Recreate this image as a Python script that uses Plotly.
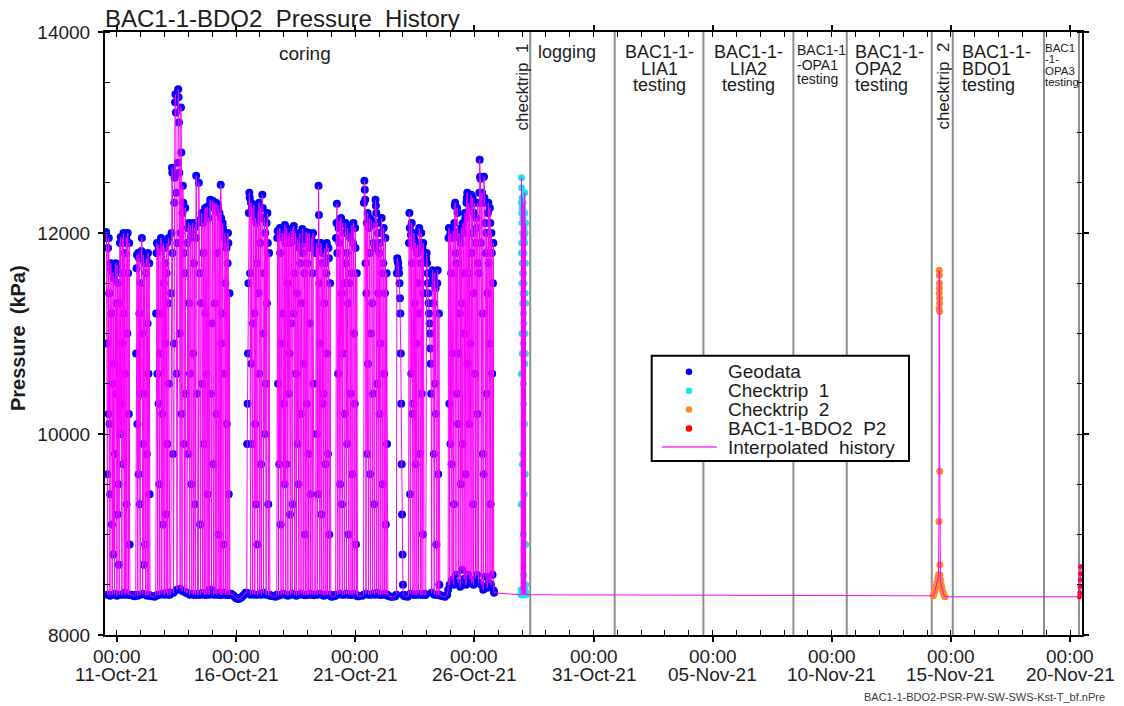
import numpy as np
import pandas as pd
import plotly.graph_objects as go

ORIGIN = pd.Timestamp("2021-10-11 00:00")

# ---------------------------------------------------------------------------
# Geodata recorded while coring: pressure (kPa), one list per stretch of record
# ---------------------------------------------------------------------------
blk01 = [11980, 12010, 11950, 10900, 9600, 8400, 11850, 10200, 11950, 11400, 10100, 8390,
         9400, 11700, 11640, 11200, 9100, 8400, 10500, 11600, 8800, 11550, 10700, 8410,
         9800, 11620, 11700, 10400, 11300, 8390, 11680, 9200, 11500, 9500, 8700, 8400,
         11300, 11900, 10000, 11960, 11600, 10300, 8400, 10900, 11950, 9700, 12000, 11200,
         8420, 11800, 10600, 8400, 11900, 11950, 9300, 8410, 11000, 12000, 11600, 8400,
         10200, 11900, 8900, 8400]
gap01 = [8400, 8390, 8385]
blk02 = [8400, 10800, 11650, 11780, 10100, 8390, 11800, 9600, 11750, 11200, 9300, 8400,
         11500, 10400, 11820, 11950, 11000, 8410, 9900, 11780, 8700, 11700, 10400, 8900,
         8400, 11600, 11750, 9800, 8390, 11100, 11800, 10600, 8400, 11700, 9400, 8390]
gap02 = [8385, 8380]
blk03 = [8390, 11200, 11800, 11900, 10600, 8400, 11880, 10300, 11850, 9500, 8400, 10800,
         11900, 11950, 11200, 8410, 10200, 11870, 9100, 11900, 11500, 8400, 11850, 10900,
         11700, 9200, 8420, 11600, 11900, 9900, 8400, 11300, 11950, 10500, 8420, 8400]
blk04 = [8420, 11400, 12000, 12650, 12600, 11800, 9800, 8420, 10900, 12300, 12550, 13300,
         13380, 13200, 12400, 10600, 8450, 11900, 12700, 13430, 13350, 13100, 12600, 11000,
         8460, 12000, 13250, 12800, 10200, 8440, 12200, 12470, 12300, 11800, 9900, 8430,
         11600, 12250, 10400, 8420]
blk05a = [8420, 11900, 12050, 9800, 12100, 11300, 8400, 10600, 12080, 11950, 9500, 8410,
          12000, 12100, 10800, 8400, 11700, 12050, 9300, 8400, 11950, 12570, 12100, 10400,
          8400, 8410]
blk05b = [8400, 12500, 12120, 11600, 9100, 8400, 11300, 12150, 12200, 10500, 8420, 12100,
          11800, 9900, 8400, 12180, 12250, 11200, 8400, 10600, 12200, 12260, 9400, 8410,
          12150, 8400]
blk05c = [8450, 12280, 12330, 12310, 10400, 8450, 11100, 12280, 12320, 9700, 8400, 12300,
          12250, 11300, 8410, 12220, 12300, 10200, 8400, 11800, 12280, 12240, 9000, 8420,
          12200, 8400]
blk05d = [8400, 12480, 12150, 10900, 8400, 11200, 12100, 12050, 8900, 8420, 10600, 11950,
          12000, 11500, 8400, 11900, 11850, 10100, 8400, 11700, 12000, 11900, 9400, 8400,
          11400, 8400]
gap03 = [8410, 8400, 8390, 8375, 8365, 8360, 8360, 8365, 8375, 8390, 8400, 8420]
blk06 = [8420, 9900, 10300, 10800, 11500, 12200, 12400, 12350, 11600, 8400, 12300, 10700,
         12250, 9900, 8410, 11100, 12200, 12280, 11200, 8400, 10100, 12150, 9300, 12100,
         11700, 8900, 8400, 12220, 11400, 12300, 10600, 8410, 11900, 12250, 9700, 8400,
         12150, 12380, 12250, 11000, 8420, 11600, 12150, 10000, 12000, 10500, 8400, 12100,
         11300, 12200, 11900, 9300, 8400, 11800, 8400, 8390]
gap04 = [8390, 8385, 8380]
blk07 = [8400, 11950, 12020, 10500, 8390, 11980, 9700, 12050, 11800, 9100, 8400, 10900,
         12000, 11960, 11200, 8410, 10300, 11990, 9500, 12080, 11900, 8400, 9700, 12050,
         11950, 11500, 8390, 11970, 10400, 12000, 10800, 9200, 8400, 11900, 12020, 11100,
         8410, 9300, 12050, 11200, 12070, 11600, 8400, 11980, 12000, 10600, 8390, 11400,
         11950, 9900, 11900, 9500, 8400, 11850, 12000, 11700, 10200, 8410, 11300, 11950,
         12040, 11800, 8400, 10700, 11900, 11600, 9000, 8395, 11950, 12010, 10300, 8400,
         11700, 11990, 9800, 8400, 12000, 11850, 11100, 8410, 9400, 11950, 11900, 8400,
         11600, 12000, 10500, 8400, 8395, 8400]
blk08 = [8400, 11800, 11900, 10000, 8400, 11850, 9400, 12470, 12180, 11500, 8410, 10900,
         11880, 11900, 9200, 8400, 11700, 10300, 11800, 10400, 8390, 11300, 11850, 11700,
         9700, 8400, 11600, 11900, 10800, 8400, 9800, 11850, 11750, 9000, 8400, 11500,
         8400, 8385]
gap05 = [8380, 8385]
blk09 = [8400, 11950, 12100, 12290, 11800, 8400, 10600, 12050, 12120, 11900, 8410, 9500,
         12080, 12150, 11400, 9300, 8400, 12100, 10800, 12000, 11500, 8400, 10200, 12090,
         12100, 11700, 8410, 11800, 9900, 12050, 11300, 9000, 8400, 11500, 12000, 11950,
         10400, 8400, 11600, 12080, 9600, 8400, 11900, 12100, 11000, 8410, 10300, 12050,
         11850, 8900, 8400, 11600, 8390, 8385]
gap06 = [8385, 8390]
blk10 = [8400, 12300, 12520, 12430, 12330, 11700, 8410, 11400, 12100, 9800, 12200, 10700,
         8400, 12050, 12150, 11800, 9600, 8400, 11000, 12130, 12080, 11300, 8410, 10400,
         11900, 12100, 9300, 8400, 11850, 12330, 12270, 12200, 8420, 10500, 12100, 12000,
         11400, 8400, 11800, 10200, 11900, 10900, 8400, 12000, 12150, 11600, 9500, 8400,
         11700, 12050, 10600, 8410, 11400, 11950, 9100, 8400, 11600, 9900, 8400, 8390]
gap07 = [8385, 8380, 8380, 8385]
blk11 = [8400, 11600, 11750, 11720, 11700, 11650, 11600, 11500, 11350, 11200, 10800, 10300,
         9700, 9200, 8800, 8500, 8400, 8390]
gap08 = [8385, 8380]
blk12 = [8400, 11900, 12200, 12050, 9400, 8410, 11980, 10600, 12100, 11700, 10200, 8400,
         10300, 12000, 11950, 11300, 8400, 11900, 9700, 11850, 10900, 8400, 11800, 11880,
         11500, 8410, 11200, 12050, 11900, 9800, 8400, 11700, 12000, 10400, 8400, 11850,
         9000, 11900, 11400, 8400, 8410, 8400]
blk13 = [8400, 11750, 11800, 11700, 11600, 11500, 11400, 11300, 11200, 11100, 11000, 10850,
         10700, 10400, 8420, 11500, 11630, 11550, 11300, 9800, 8400, 11600, 10500, 11450,
         10200, 8900, 8400, 11500, 11630, 9600, 8400, 11200, 8500, 8400]
gap09 = [8390, 8385, 8380, 8400]
blk14 = [8450, 11950, 12050, 10300, 8500, 11980, 9900, 12000, 11600, 9700, 8550, 10800,
         11950, 12020, 8500, 9300, 12100, 12270, 12300, 11800, 8600, 11700, 10400, 12250,
         12200, 10100, 8520, 10800, 12000, 11950, 11200, 8480, 11900, 9500, 12050, 11300,
         8650, 9900, 12100, 12000, 11600, 8560, 11000, 12200, 12150, 9600, 8500, 12300,
         12350, 12400, 10700, 8600, 11600, 12300, 10100, 12250, 8550, 10900, 12300, 12380,
         11800, 8520, 12000, 12350, 9300, 8500, 11400, 12200, 12300, 10600, 8560, 11900,
         12150, 12050, 8600, 10200, 12300, 11700, 8520, 11600, 12400, 12730, 12560, 12540,
         11900, 8500, 12300, 12400, 11200, 9800, 8450, 9600, 12560, 12350, 12300, 12100,
         8580, 11800, 12000, 10400, 8470, 11400, 12200, 12300, 11700, 8520, 10900, 12250,
         12100, 9300, 8500, 12000, 11800, 10600, 8600, 11500, 11900, 8440, 8420]

# first / last day (days after 11-Oct-21 00:00) of each stretch above
coring_days = [(-0.47, 0.55), (0.60, 0.74), (0.79, 1.39), (1.45, 1.58), (1.63, 2.22),
               (2.26, 2.90), (2.94, 3.40), (3.42, 3.86), (3.88, 4.32), (4.34, 4.74),
               (4.79, 5.40), (5.45, 6.42), (6.47, 6.66), (6.71, 8.30), (8.34, 8.98),
               (9.02, 9.14), (9.18, 10.10), (10.15, 10.30), (10.35, 11.37), (11.42, 11.68),
               (11.73, 12.04), (12.08, 12.20), (12.24, 12.92), (12.96, 13.55),
               (13.59, 13.86), (13.90, 15.83)]
coring_blocks = [blk01, gap01, blk02, gap02, blk03, blk04, blk05a, blk05b, blk05c, blk05d,
                 gap03, blk06, gap04, blk07, blk08, gap05, blk09, gap06, blk10, gap07,
                 blk11, gap08, blk12, blk13, gap09, blk14]

# Checktrip 1
ct1_days = (16.96, 17.16)
ct1_kpa = [8400, 8450, 9300, 10600, 11800, 12300, 12550, 12450, 12200, 11900, 11000, 8450,
           11500, 12100, 12350, 12250, 11700, 10800, 8420, 9700, 11600, 12250, 12000, 11300,
           9800, 8400, 11400, 12150, 12300, 11800, 10900, 9000, 8400, 10500, 11200, 11950,
           11600, 10300, 8600, 11100, 11800, 12050, 11500, 9400, 8420, 11300, 11700, 10100,
           8500, 12200, 12400, 11900, 10700, 8450, 11000, 12000, 11400, 9600, 8400, 10800,
           11700, 12100, 11300, 8900, 8500, 8420, 8400]

# Checktrip 2
ct2_day = [34.25, 34.29, 34.33, 34.37, 34.41, 34.45, 34.48, 34.497, 34.503, 34.506, 34.509,
           34.512, 34.515, 34.518, 34.521, 34.524, 34.527, 34.531, 34.536, 34.54, 34.56,
           34.59, 34.62, 34.66, 34.70, 34.75]
ct2_kpa = [8390, 8410, 8440, 8480, 8520, 8560, 8600, 9130, 11250, 11400, 11630, 11580,
           11500, 11450, 11350, 11300, 11220, 9630, 8700, 8600, 8550, 8500, 8470, 8430,
           8400, 8380]

# BAC1-1-BDO2 P2
p2_day = [40.39, 40.41, 40.42, 40.43, 40.44, 40.45]
p2_kpa = [8380, 8420, 8480, 8550, 8610, 8680]

# operation boundaries
phase_bounds = ["2021-10-28 08:15", "2021-10-31 21:20", "2021-11-04 14:40",
                "2021-11-08 09:20", "2021-11-10 15:05", "2021-11-14 04:40",
                "2021-11-15 01:50", "2021-11-18 21:43", "2021-11-20 08:57"]

tick_dates = ["2021-10-11", "2021-10-16", "2021-10-21", "2021-10-26", "2021-10-31",
              "2021-11-05", "2021-11-10", "2021-11-15", "2021-11-20"]
y_ticks = [8000, 10000, 12000, 14000]

X_RANGE = ["2021-10-10 12:00", "2021-11-20 12:00"]
Y_RANGE = [8000, 14000]

# ---------------------------------------------------------------------------
W, H = 1124, 706
L, R, T, B = 105, 42, 32, 71
PW, PH = W - L - R, H - T - B
FONT = "Liberation Sans, Arial, Helvetica, sans-serif"
INK = "#1c1c1c"


def to_time(days):
    return ORIGIN + pd.to_timedelta(np.asarray(days, dtype=float), unit="D")


def px_x(p):
    return (p - L) / PW


def px_y(p):
    return (T + PH - p) / PH


geo_day = np.concatenate([np.linspace(a, b, len(v)) for (a, b), v in zip(coring_days, coring_blocks)])
geo_kpa = np.concatenate([np.asarray(v, dtype=float) for v in coring_blocks])
ct1_day = np.linspace(ct1_days[0], ct1_days[1], len(ct1_kpa))

hist_day = np.concatenate([geo_day, ct1_day, ct2_day, p2_day])
hist_kpa = np.concatenate([geo_kpa, ct1_kpa, ct2_kpa, p2_kpa])
order = np.argsort(hist_day, kind="stable")

fig = go.Figure()
fig.add_trace(go.Scatter(x=to_time(geo_day), y=geo_kpa, mode="markers", name="Geodata",
                         marker=dict(color="#0000ff", size=8, line=dict(width=0))))
fig.add_trace(go.Scatter(x=to_time(ct1_day), y=ct1_kpa, mode="markers", name="Checktrip 1",
                         marker=dict(color="#18e4ee", size=7, line=dict(width=0))))
fig.add_trace(go.Scatter(x=to_time(ct2_day), y=ct2_kpa, mode="markers", name="Checktrip 2",
                         marker=dict(color="#ff8a24", size=7, line=dict(width=0))))
fig.add_trace(go.Scatter(x=to_time(p2_day), y=p2_kpa, mode="markers", name="BAC1-1-BDO2 P2",
                         marker=dict(color="#ff0000", size=5, line=dict(width=0))))
fig.add_trace(go.Scatter(x=to_time(hist_day[order]), y=hist_kpa[order], mode="lines",
                         name="Interpolated history", line=dict(color="#ff00ff", width=1.0)))

shapes = []
for b in phase_bounds:
    shapes.append(dict(type="line", xref="x", yref="paper", x0=b, x1=b, y0=0, y1=1,
                       line=dict(color="#8e8e8e", width=2), layer="below"))

annotations = []


def note(text, x, y, size, xref="x", xanchor="center", angle=0, xshift=0, color=INK):
    annotations.append(dict(text=text, x=x, y=y, xref=xref, yref="paper", xanchor=xanchor,
                            yanchor="middle", textangle=angle, xshift=xshift, showarrow=False,
                            borderpad=0, font=dict(family=FONT, size=size, color=color)))


# operation labels
note("coring", "2021-10-18 21:45", px_y(53.5), 19)
note("checktrip\u00a0 1", "2021-10-28 00:00", px_y(87.5), 17, angle=-90)
note("logging", phase_bounds[0], px_y(51.5), 18, xanchor="left", xshift=7)
rows18 = [51.5, 68.5, 85]
for i, line in enumerate(["BAC1-1-", "LIA1", "testing"]):
    note(line, "2021-11-02 18:00", px_y(rows18[i]), 18)
for i, line in enumerate(["BAC1-1-", "LIA2", "testing"]):
    note(line, "2021-11-06 12:00", px_y(rows18[i]), 18)
for i, line in enumerate(["BAC1-1", "-OPA1", "testing"]):
    note(line, phase_bounds[3], px_y([50, 65, 78.5][i]), 14, xanchor="left", xshift=3)
for i, line in enumerate(["BAC1-1-", "OPA2", "testing"]):
    note(line, phase_bounds[4], px_y(rows18[i]), 18, xanchor="left", xshift=7)
note("checktrip\u00a0 2", "2021-11-14 15:35", px_y(86), 17, angle=-90)
for i, line in enumerate(["BAC1-1-", "BDO1", "testing"]):
    note(line, phase_bounds[6], px_y(rows18[i]), 18, xanchor="left", xshift=8)
for i, line in enumerate(["BAC1", "-1-", "OPA3", "testing"]):
    note(line, phase_bounds[7], px_y([47.5, 59, 70.5, 82][i]), 11.5, xanchor="left", xshift=0)

# two-line time labels under each major tick
for d in tick_dates:
    note(pd.Timestamp(d).strftime("%H:%M"), d, px_y(656), 19)
    note(pd.Timestamp(d).strftime("%d-%b-%y"), d, px_y(674.5), 19)

# source file name
note("BAC1-1-BDO2-PSR-PW-SW-SWS-Kst-T_bf.nPre", px_x(1106), px_y(697), 11, xref="paper",
     xanchor="right", color="#3a3a3a")

# y axis title
note("<b>Pressure\u00a0 (kPa)</b>", px_x(18), px_y(338), 20, xref="paper", angle=-90)

# legend box
lx0, lx1, ly0, ly1 = 651.7, 909, 355.7, 461
shapes.append(dict(type="rect", xref="paper", yref="paper", x0=px_x(lx0), x1=px_x(lx1),
                   y0=px_y(ly1), y1=px_y(ly0), fillcolor="white",
                   line=dict(color="black", width=2), layer="above"))
legend_rows = [("Geodata", "#0000ff", 371.7), ("Checktrip\u00a0 1", "#18e4ee", 390.7),
               ("Checktrip\u00a0 2", "#ff8a24", 409.5), ("BAC1-1-BDO2\u00a0 P2", "#ff0000", 428.5)]
for label, col, yy in legend_rows:
    shapes.append(dict(type="circle", xref="paper", yref="paper", xsizemode="pixel",
                       ysizemode="pixel", xanchor=px_x(689), yanchor=px_y(yy),
                       x0=-3.3, x1=3.3, y0=-3.3, y1=3.3, fillcolor=col,
                       line=dict(width=0), layer="above"))
    note(label, px_x(727), px_y(yy), 19, xref="paper", xanchor="left")
shapes.append(dict(type="line", xref="paper", yref="paper", x0=px_x(661.7), x1=px_x(717),
                   y0=px_y(447), y1=px_y(447), line=dict(color="#ff33ff", width=1.5),
                   layer="above"))
note("Interpolated\u00a0 history", px_x(727), px_y(447), 19, xref="paper", xanchor="left")

axis_common = dict(showline=True, linecolor="black", linewidth=2, mirror="allticks",
                   ticks="outside", ticklen=5, tickwidth=1.5, tickcolor="black",
                   showgrid=False, zeroline=False,
                   tickfont=dict(family=FONT, size=19, color=INK))

fig.update_xaxes(type="date", range=X_RANGE, tickmode="array", tickvals=tick_dates,
                 showticklabels=False,
                 minor=dict(tickmode="linear", tick0="2021-10-11", dtick=86400000,
                            ticks="inside", ticklen=5, tickwidth=1.2, tickcolor="black"),
                 **axis_common)
fig.update_yaxes(range=Y_RANGE, tickmode="array", tickvals=y_ticks,
                 ticktext=[str(v) for v in y_ticks], ticklabelstandoff=4,
                 minor=dict(tickmode="linear", tick0=8000, dtick=500, ticks="inside",
                            ticklen=5, tickwidth=1.2, tickcolor="black"),
                 **axis_common)

fig.update_layout(
    width=W, height=H, margin=dict(l=L, r=R, t=T, b=B, pad=0),
    paper_bgcolor="white", plot_bgcolor="white", showlegend=False,
    title=dict(text="BAC1-1-BDO2\u00a0 Pressure\u00a0 History", x=0, xref="paper", xanchor="left",
               y=1 - 18.5 / H, yref="container", yanchor="middle",
               font=dict(family=FONT, size=24, color=INK)),
    shapes=shapes, annotations=annotations,
)

fig.write_html("out.html")
